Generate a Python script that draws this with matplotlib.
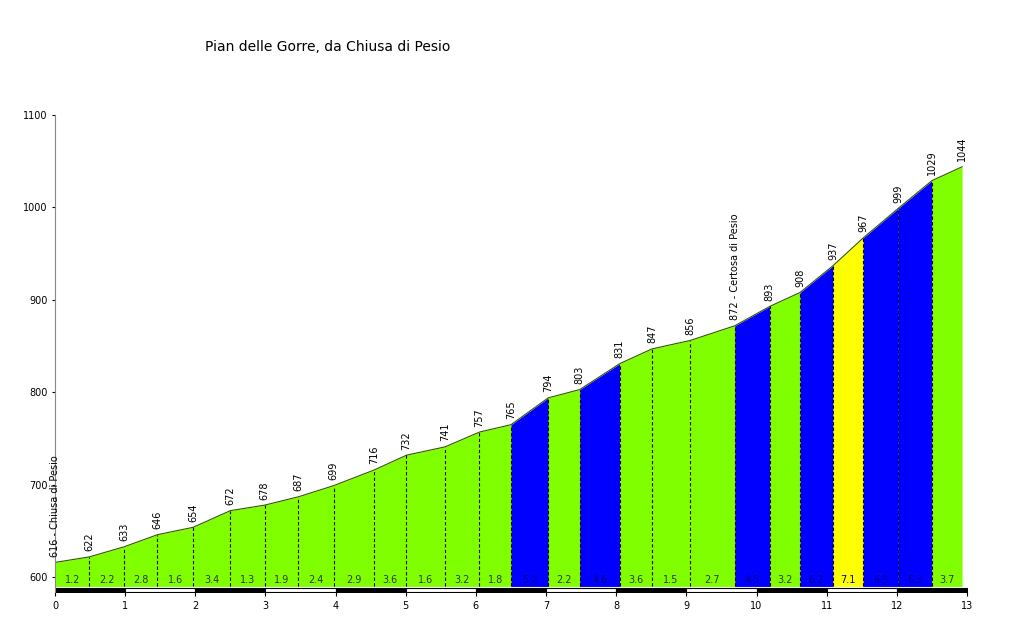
import matplotlib
matplotlib.use("Agg")
import matplotlib.pyplot as plt

km = [0, 0.49, 0.99, 1.46, 1.97, 2.5, 2.99, 3.47, 3.97, 4.55, 5.01, 5.56, 6.05, 6.5,
      7.03, 7.48, 8.05, 8.51, 9.05, 9.69, 10.19, 10.62, 11.09, 11.52, 12.02, 12.5, 12.93]
elev = [616, 622, 633, 646, 654, 672, 678, 687, 699, 716, 732, 741, 757, 765,
        794, 803, 831, 847, 856, 872, 893, 908, 937, 967, 999, 1029, 1044]
grades = ["1.2", "2.2", "2.8", "1.6", "3.4", "1.3", "1.9", "2.4", "2.9", "3.6", "1.6", "3.2", "1.8",
          "5.2", "2.2", "4.6", "3.6", "1.5", "2.7", "4.5", "3.2", "6.2", "7.1", "6.5", "6.3", "3.7"]
names = {0: "Chiusa di Pesio", 19: "Certosa di Pesio"}

def colour(g):
    g = float(g)
    if g >= 7: return "#ffff00"
    if g >= 4: return "#0000ff"
    return "#80ff00"

fig = plt.figure(figsize=(10.24, 6.41), dpi=100)
ax = fig.add_axes([55/1024, 1-592/641, 912/1024, 477/641])
base = 590
for i in range(len(km)-1):
    ax.fill_between([km[i], km[i+1]], [elev[i], elev[i+1]], base, color=colour(grades[i]), lw=0)
    ax.text((km[i]+km[i+1])/2, 597, grades[i], ha="center", va="center", fontsize=7,
            color="#000080" if float(grades[i]) >= 4 else "#333333")
ax.plot(km, elev, color="#335500", lw=0.8)
for i in range(1, len(km)-1):
    ax.plot([km[i], km[i]], [base, elev[i]], color="black", lw=0.8, ls=(0, (3, 2)))
for i, (x, e) in enumerate(zip(km, elev)):
    lab = f"{e} - {names[i]}" if i in names else str(e)
    ax.text(x, e + 6, lab, rotation=90, ha="center", va="bottom", fontsize=7)
for k in range(13):
    ax.fill_between([k, k+1], 584, 588, color="black" if k % 2 == 0 else "white",
                    edgecolor="black", lw=0.8)
ax.set_xlim(0, 13)
ax.set_ylim(584, 1100)
ax.set_xticks(range(14))
ax.set_yticks([600, 700, 800, 900, 1000, 1100])
ax.tick_params(labelsize=7, length=3)
ax.tick_params(axis="y", colors="black", length=2)
for t in ax.yaxis.get_ticklines():
    t.set_color("red")
for s in ["top", "right", "bottom"]:
    ax.spines[s].set_visible(False)
ax.spines["left"].set_color("#888888")
fig.text(205/1024, 1-47/641, "Pian delle Gorre, da Chiusa di Pesio", fontsize=10, va="center")
fig.savefig("out.png")
